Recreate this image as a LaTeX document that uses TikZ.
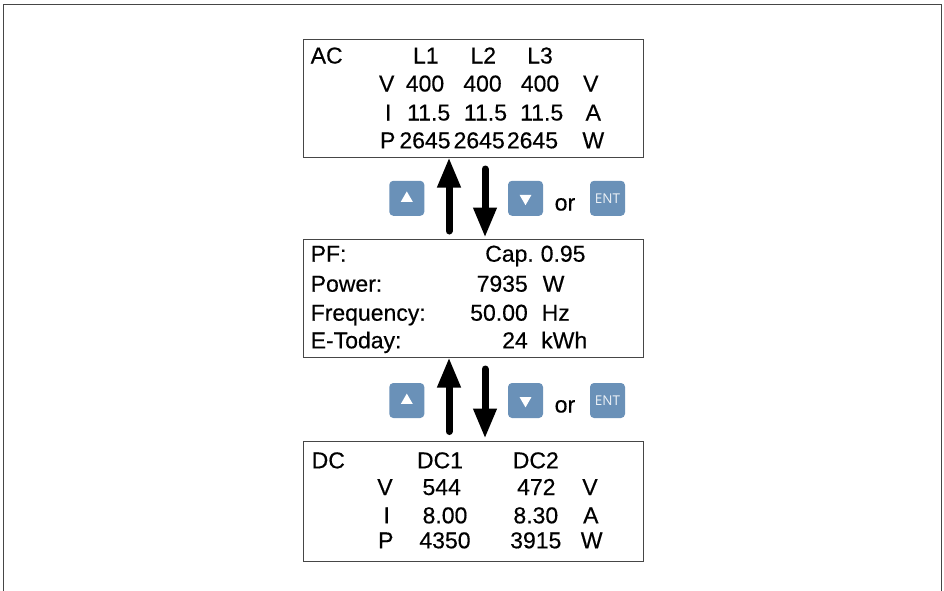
\documentclass[tikz,border=0pt]{standalone}
\usepackage{fontspec}
\setmainfont{Liberation Sans}[FakeBold=0.4]
\newfontfamily\entfont{Open Sans}
\usepackage{tikz}
\usetikzlibrary{arrows.meta,positioning,calc,shapes.geometric}
\definecolor{keyblue}{RGB}{106,145,184}
\definecolor{frame}{RGB}{70,70,70}

\begin{document}
\begin{tikzpicture}[x=1pt, y=-1pt,
  panel/.style={draw=frame, line width=1pt, minimum width=340pt, inner sep=0pt},
  lcd/.style={font=\fontsize{23}{27}\selectfont, inner sep=0pt, anchor=base},
  lcdl/.style={lcd, anchor=base west},
  lcdr/.style={lcd, anchor=base east},
  keybtn/.style={fill=keyblue, rounded corners=4pt, minimum size=35pt, inner sep=0pt},
  keysym/.style={regular polygon, regular polygon sides=3, fill=white, minimum size=13.8pt, inner sep=0pt},
  entkey/.style={keybtn, text=white!88!keyblue, font=\entfont\fontsize{13.5}{15}\selectfont},
  flow/.style={line width=7pt, line cap=round, -{Triangle[length=30pt,width=22pt]}}]
\useasboundingbox (0,0) rectangle (944,590);
\draw[frame, line width=1pt] (3,591) -- (3,4) -- (941,4) -- (941,591);
% the three display panels
\node[panel, minimum height=118pt] (ac) at (473,98) {};
\node[panel, minimum height=118pt] (pf) at (473,298) {};
\node[panel, minimum height=120pt] (dc) at (473,501) {};
% AC page
\node[lcdl] (actitle) at (310.5,63.5) {AC};
\node[lcd] (acl1) at (425.8,63.5) {L1};
\node[lcd] (acl2) at (483.3,63.5) {L2};
\node[lcd] (acl3) at (540,63.5) {L3};
\node[lcd] (acv) at (386.7,91.5) {V};
\node[lcd] (acv1) at (425,91.5) {400};
\node[lcd] (acv2) at (482.5,91.5) {400};
\node[lcd] (acv3) at (540,91.5) {400};
\node[lcd] (acvu) at (590.8,91.5) {V};
\node[lcd] (aci) at (388.3,120.5) {I};
\node[lcd] (aci1) at (428.7,120.5) {11.5};
\node[lcd] (aci2) at (485.5,120.5) {11.5};
\node[lcd] (aci3) at (541.7,120.5) {11.5};
\node[lcd] (aciu) at (593.3,120.5) {A};
\node[lcd] (acp) at (387.7,148.3) {P};
\node[lcd] (acp1) at (425,148.3) {2645};
\node[lcd] (acp2) at (479.2,148.3) {2645};
\node[lcd] (acp3) at (532.5,148.3) {2645};
\node[lcd] (acpu) at (593.3,148.3) {W};
% summary page
\node[lcdl] (pflabel) at (310.5,261.7) {PF:};
\node[lcdr] (pfval) at (534,261.7) {Cap.};
\node[lcdl] (pfunit) at (540.5,261.7) {0.95};
\node[lcdl] (powlabel) at (310.5,291.7) {Power:};
\node[lcdr] (powval) at (528,291.7) {7935};
\node[lcdl] (powunit) at (542.5,291.7) {W};
\node[lcdl] (freqlabel) at (310.5,320.7) {Frequency:};
\node[lcdr] (freqval) at (528,320.7) {50.00};
\node[lcdl] (frequnit) at (541.5,320.7) {Hz};
\node[lcdl] (etlabel) at (310.5,348.3) {E-Today:};
\node[lcdr] (etval) at (528,348.3) {24};
\node[lcdl] (etunit) at (541,348.3) {kWh};
% DC page
\node[lcdl] (dctitle) at (311.5,468.3) {DC};
\node[lcd] (dcs1) at (440,468.3) {DC1};
\node[lcd] (dcs2) at (535.8,468.3) {DC2};
\node[lcd] (dcv) at (385,495) {V};
\node[lcd] (dcv1) at (441.7,495) {544};
\node[lcd] (dcv2) at (536.3,495) {472};
\node[lcd] (dcvu) at (590,495) {V};
\node[lcd] (dci) at (386.8,523.3) {I};
\node[lcd] (dci1) at (445,523.3) {8.00};
\node[lcd] (dci2) at (535.8,523.3) {8.30};
\node[lcd] (dciu) at (590.8,523.3) {A};
\node[lcd] (dcp) at (385.8,548.3) {P};
\node[lcd] (dcp1) at (445,548.3) {4350};
\node[lcd] (dcp2) at (535.8,548.3) {3915};
\node[lcd] (dcpu) at (591.7,548.3) {W};
% keys between the pages
\node[keybtn] (upa) at (406.8,198.3) {};
\node[keysym] (upasym) at (upa) {};
\node[keybtn] (dna) at (525.5,198.3) {};
\node[keysym, shape border rotate=180] (dnasym) at (dna) {};
\node[lcdl] (ora) at (554.5,210.5) {or};
\node[entkey] (enta) at (607.5,198.3) {ENT};
\node[keybtn] (upb) at (406.8,400.5) {};
\node[keysym] (upbsym) at (upb) {};
\node[keybtn] (dnb) at (525.5,400.5) {};
\node[keysym, shape border rotate=180] (dnbsym) at (dnb) {};
\node[lcdl] (orb) at (554.5,412.5) {or};
\node[entkey] (entb) at (607.5,400.5) {ENT};
% paging arrows
\draw[flow] ([xshift=-24pt,yshift=7.5pt]pf.north) -- ([xshift=-24pt]ac.south);
\draw[flow] ([xshift=12pt,yshift=-11.5pt]ac.south) -- ([xshift=12pt,yshift=1pt]pf.north);
\draw[flow] ([xshift=-24pt,yshift=9pt]dc.north) -- ([xshift=-24pt]pf.south);
\draw[flow] ([xshift=12pt,yshift=-11.5pt]pf.south) -- ([xshift=12pt,yshift=2pt]dc.north);
\end{tikzpicture}
\end{document}
